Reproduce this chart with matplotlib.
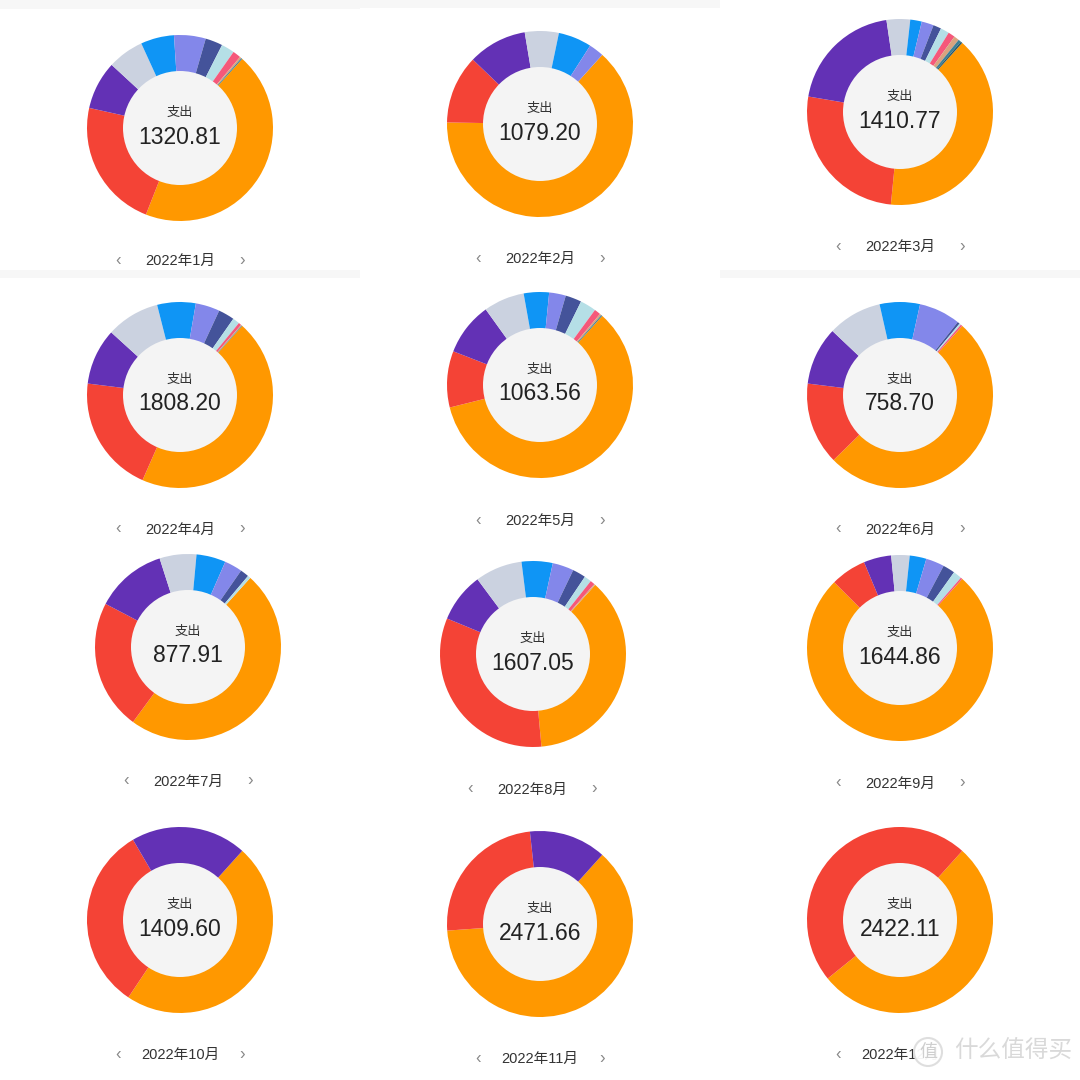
import matplotlib.pyplot as plt
from matplotlib.patches import Circle, Rectangle

plt.rcParams['font.family'] = ['Liberation Sans', 'Noto Sans CJK SC', 'DejaVu Sans']

# category colours, in drawing order (clockwise)
colors = ['#FF9800', '#F44336', '#6331B5', '#CBD2E0', '#0F95F5', '#8387EA',
          '#44539A', '#B5DFE6', '#F5587A', '#D9A37E', '#3D7F96', '#2A5868']

months = ['2022年1月', '2022年2月', '2022年3月', '2022年4月', '2022年5月', '2022年6月',
          '2022年7月', '2022年8月', '2022年9月', '2022年10月', '2022年11月', '2022年12月']
totals = ['1320.81', '1079.20', '1410.77', '1808.20', '1063.56', '758.70',
          '877.91', '1607.05', '1644.86', '1409.60', '2471.66', '2422.11']

# share of each category, percent
jan = [44.3, 22.5, 8.4, 6.3, 5.8, 5.5, 3.0, 2.3, 1.4, 0.3, 0.2]
feb = [63.6, 11.9, 10.2, 5.9, 5.8, 2.6]
mar = [39.9, 26.1, 20.0, 4.1, 2.0, 2.1, 1.4, 1.5, 1.2, 0.9, 0.5, 0.3]
apr = [45.0, 20.4, 9.8, 9.3, 6.7, 4.2, 2.8, 1.2, 0.5, 0.15, 0.1]
may = [59.5, 9.8, 9.2, 7.1, 4.4, 2.9, 2.8, 2.8, 1.1, 0.3, 0.2]
jun = [51.0, 14.3, 10.1, 9.4, 7.0, 7.2, 0.4, 0.3, 0.3]
jul = [48.4, 22.6, 12.4, 6.4, 5.1, 3.1, 1.5, 0.5]
aug = [36.9, 32.7, 8.6, 8.2, 5.4, 3.7, 2.3, 1.25, 0.8, 0.2]
sep = [75.9, 6.2, 4.8, 3.2, 2.9, 3.2, 2.1, 1.5, 0.3]
oct_ = [47.7, 32.2, 20.1]
nov = [62.2, 24.4, 13.4]
dec = [52.5, 47.5]
shares = [jan, feb, mar, apr, may, jun, jul, aug, sep, oct_, nov, dec]

# layout in screen pixels (y measured from top)
centers = [(180, 128), (540, 124), (900, 112), (180, 395), (540, 385), (900, 395),
           (188, 647), (533, 654), (900, 648), (180, 920), (540, 924), (900, 920)]
label_x = [180, 540, 900, 180, 540, 900, 188, 532, 900, 180, 540, 900]
label_y = [261, 259, 247, 530, 521, 530, 782, 790, 784, 1055, 1059, 1055]
R_OUT, R_IN = 93, 57
H = 1080

fig = plt.figure(figsize=(10.8, 10.8), dpi=100)
ax = fig.add_axes([0, 0, 1, 1])
ax.set_facecolor('white')

# light separator bands from the stitched screenshots
for x0, y0, h in [(0, 0, 9), (360, 0, 8), (0, 270, 8), (720, 270, 8)]:
    ax.add_patch(Rectangle((x0, H - y0 - h), 360, h, color='#f7f7f7', lw=0, zorder=0))

for i, vals in enumerate(shares):
    cx, cy = centers[i]
    cy = H - cy
    ax.pie(vals, colors=colors[:len(vals)], startangle=48, counterclock=False,
           center=(cx, cy), radius=R_OUT, frame=True,
           wedgeprops=dict(linewidth=0))
    ax.add_patch(Circle((cx, cy), R_IN, color='#f4f4f4', lw=0, zorder=3))
    ax.text(cx, cy + 15, '支出', ha='center', va='center', fontsize=9.5,
            color='#333333', zorder=4)
    ax.text(cx, cy - 9, totals[i], ha='center', va='center', fontsize=16.5,
            color='#222222', zorder=4)

    lx, ly = label_x[i], H - label_y[i]
    ax.text(lx, ly, months[i], ha='center', va='center', fontsize=10.5, color='#333333')
    ax.text(lx - 62, ly + 1, '‹', ha='center', va='center', fontsize=12, color='#888888')
    if i < 11:  # the last right arrow sits under the watermark
        ax.text(lx + 62, ly + 1, '›', ha='center', va='center', fontsize=12, color='#888888')

# watermark bottom right
ax.add_patch(Circle((928, H - 1052), 14, facecolor='white', edgecolor='#dddddd',
                    lw=1.5, alpha=0.95, zorder=5))
ax.text(928, H - 1052, '值', ha='center', va='center', fontsize=13, color='#cfcfcf', zorder=6)
ax.text(1013, H - 1052, '什么值得买', ha='center', va='center', fontsize=17,
        color='#d9d9d9', zorder=6)

ax.set_xlim(0, 1080)
ax.set_ylim(0, 1080)
ax.set_aspect('equal')
ax.axis('off')

fig.savefig('out.png', dpi=100, facecolor='white')
